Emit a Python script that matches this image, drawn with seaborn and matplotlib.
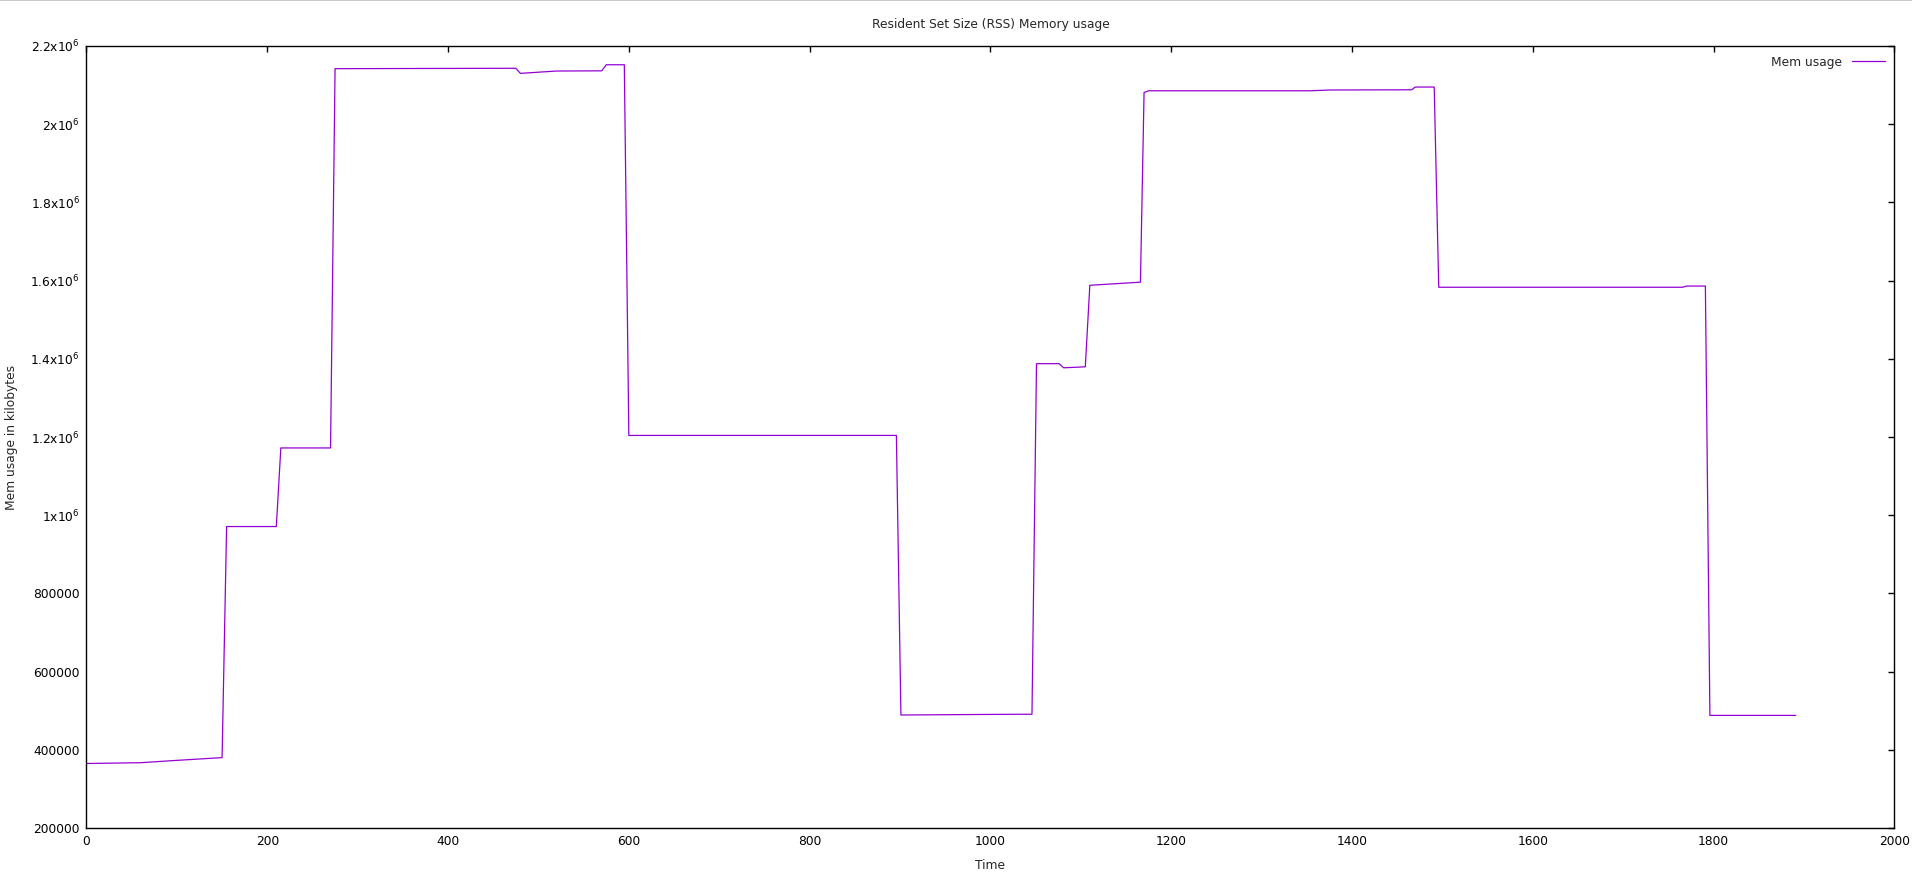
import pandas as pd
import matplotlib
matplotlib.use("Agg")
import matplotlib.pyplot as plt
from matplotlib.ticker import FuncFormatter, MultipleLocator
from matplotlib.lines import Line2D
import seaborn as sns

# data (time, RSS in kB)
time = [0, 60, 100, 150, 155, 210, 215, 270, 275, 370, 475, 480, 520, 570,
        575, 595, 600, 896, 901, 1000, 1046, 1051, 1076, 1081, 1105, 1110,
        1166, 1170, 1175, 1354, 1376, 1466, 1470, 1491, 1496, 1766, 1770,
        1791, 1796, 1891]
mem = [365000, 367000, 373000, 380000, 971000, 971000, 1172000, 1172000,
       2142000, 2142500, 2143000, 2130000, 2136000, 2136500, 2152000, 2152000,
       1204000, 1204000, 489000, 490500, 491000, 1387500, 1387500, 1377000,
       1379500, 1588000, 1596000, 2081000, 2085500, 2085500, 2087500, 2088000,
       2095000, 2095000, 1583000, 1583000, 1586000, 1586000, 488000, 488000]

df = pd.DataFrame({"Time": time, "Mem": mem})

sns.set_style("white")
plt.rcParams["font.family"] = ["DejaVu Sans"]
plt.rcParams["mathtext.fontset"] = "dejavusans"

fig = plt.figure(figsize=(19.12, 8.76), dpi=100)
ax = fig.add_axes([0.04524, 0.05479, 0.9455, 0.8927])

sns.lineplot(data=df, x="Time", y="Mem", color="#9400D3", linewidth=0.9,
             label="Mem usage", ax=ax)

ax.set_xlim(0, 2000)
ax.set_ylim(200000, 2200000)
ax.xaxis.set_major_locator(MultipleLocator(200))
ax.yaxis.set_major_locator(MultipleLocator(200000))


def fmt_y(v, pos):
    if v >= 1e6:
        m = v / 1e6
        s = ("%.1f" % m).rstrip("0").rstrip(".")
        return s + "x10$^{6}$"
    return "%d" % v


ax.yaxis.set_major_formatter(FuncFormatter(fmt_y))

for sp in ax.spines.values():
    sp.set_visible(True)
    sp.set_color("black")
    sp.set_linewidth(1.0)

ax.tick_params(direction="in", length=4.5, width=1.0, top=True, right=True,
               labelsize=8.8, colors="black", pad=5)
ax.grid(False)

ax.set_xlabel("Time", fontsize=8.8, labelpad=8)
ax.set_ylabel("Mem usage in kilobytes", fontsize=8.8, labelpad=9)
ax.set_title("Resident Set Size (RSS) Memory usage", fontsize=8.8, pad=13)

ax.legend(loc="upper right", frameon=False, markerfirst=False,
          fontsize=8.8, handlelength=2.7, borderaxespad=0.4)

# thin grey border along the top edge of the image
fig.add_artist(Line2D([0, 1], [0.9995, 0.9995], transform=fig.transFigure,
                      color="#bcbcbc", linewidth=1.2))

fig.savefig("out.png", dpi=100, facecolor="white")
